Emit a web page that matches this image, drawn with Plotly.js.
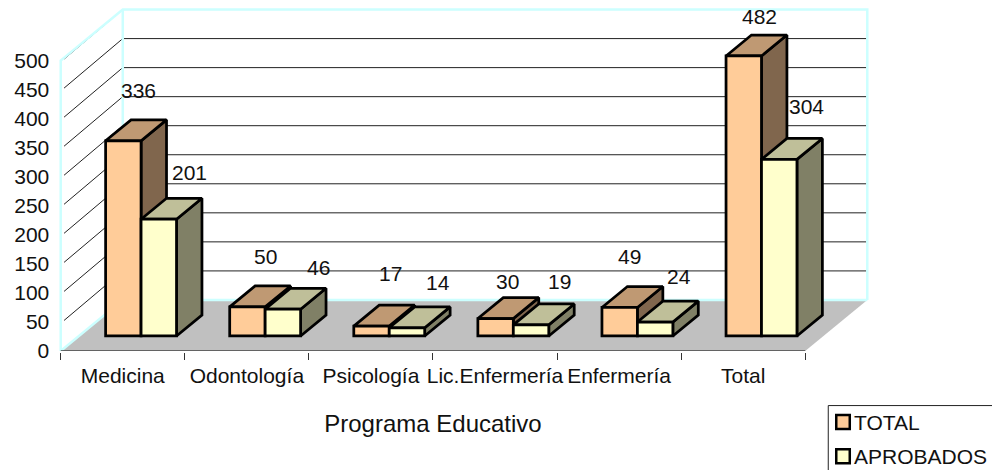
<!DOCTYPE html>
<html>
<head>
<meta charset="utf-8">
<script src="https://cdn.plot.ly/plotly-3.0.1.min.js"></script>
<style>html,body{margin:0;padding:0;background:#fff;overflow:hidden}#c{width:992px;height:470px}</style>
</head>
<body>
<div id="c"></div>
<script>
const categories = ['Medicina','Odontología','Psicología','Lic.Enfermería','Enfermería','Total'];
const total = [336,50,17,30,49,482];
const aprobados = [201,46,14,19,24,304];
const yTicks = [0,50,100,150,200,250,300,350,400,450,500];

// 3D projection settings (x in category units, y in value units per full depth)
const DX = 0.5, DY = 87.9, YMAX = 500;
const barW = 2/7, gap = 1.5/7, dFront = 0.295, dBack = 0.705;
const lineBlack = {color:'#000', width:2.75};
const FONT = 'Liberation Sans, Arial, sans-serif';
const TXT = 21;

function P(x, y, d){ return [x + d*DX, y + d*DY]; }
function polys(list){
  const xs=[], ys=[];
  list.forEach(pts=>{ pts.concat([pts[0]]).forEach(p=>{xs.push(p[0]);ys.push(p[1]);}); xs.push(null); ys.push(null); });
  return {x:xs,y:ys};
}
function lines(list){
  const xs=[], ys=[];
  list.forEach(pts=>{ pts.forEach(p=>{xs.push(p[0]);ys.push(p[1]);}); xs.push(null); ys.push(null); });
  return {x:xs,y:ys};
}
function face(g, fill, z, name){
  return Object.assign({type:'scatter',mode:'lines',fill:'toself',fillcolor:fill,line:lineBlack,
    cliponaxis:false,showlegend:false,hoverinfo:'skip',zorder:z,name:name}, g);
}
function sideFaces(vals, slot){
  return polys(vals.map((v,i)=>{
    const x = i + gap + (slot+1)*barW;
    return [P(x,0,dFront),P(x,0,dBack),P(x,v,dBack),P(x,v,dFront)];
  }));
}
function topFaces(vals, slot){
  return polys(vals.map((v,i)=>{
    const a = i + gap + slot*barW, b = a + barW;
    return [P(a,v,dFront),P(b,v,dFront),P(b,v,dBack),P(a,v,dBack)];
  }));
}
function frontBars(vals, slot, color, z, name){
  return {type:'bar',name:name,x:vals.map((v,i)=>P(i+gap+(slot+.5)*barW,0,dFront)[0]),
    y:vals,base:vals.map(()=>dFront*DY),width:vals.map(()=>barW),
    marker:{color:color,line:lineBlack},cliponaxis:false,zorder:z,hoverinfo:'skip',showlegend:false};
}

const n = categories.length;
const wall = lines([
  [P(0,0,0),P(0,YMAX,0),P(0,YMAX,1),P(n,YMAX,1),P(n,0,1)],
  [P(0,YMAX,1),P(0,0,1),P(0,0,0)],
  [P(0,0,1),P(n,0,1)]
]);
const grid = lines(yTicks.filter(v=>v>0).map(v=>[P(0.012,v,0.03),P(0,v,0.97),P(0,v,1),P(n,v,1)]));
const floor = polys([[P(0,0,0),P(n,0,0),P(n,0,1),P(0,0,1)]]);
const floorEdge = lines([[P(0,0,0),P(n,0,0)]]);

const traces = [
  {type:'scatter',mode:'lines',x:[0,n],y:[0,0],xaxis:'x2',yaxis:'y',line:{color:'rgba(0,0,0,0)',width:0},showlegend:false,hoverinfo:'skip',name:'category axis'},
  {type:'scatter',mode:'lines',x:grid.x,y:grid.y,line:{color:'#222',width:1},cliponaxis:false,showlegend:false,hoverinfo:'skip',zorder:1,name:'grid'},
  {type:'scatter',mode:'lines',fill:'toself',fillcolor:'#C0C0C0',line:{width:0},x:floor.x,y:floor.y,cliponaxis:false,showlegend:false,hoverinfo:'skip',zorder:2,name:'floor'},
  {type:'scatter',mode:'lines',x:wall.x,y:wall.y,line:{color:'#CCFFFF',width:2.5},cliponaxis:false,showlegend:false,hoverinfo:'skip',zorder:3,name:'walls'},
  {type:'scatter',mode:'lines',x:floorEdge.x,y:floorEdge.y,line:{color:'#444',width:1.5},cliponaxis:false,showlegend:false,hoverinfo:'skip',zorder:3,name:'floor edge'},
  face(sideFaces(total,0),'#80664D',4,'TOTAL side'),
  face(topFaces(total,0),'#BF9973',4,'TOTAL top'),
  frontBars(total,0,'#FFCC99',5,'TOTAL'),
  face(sideFaces(aprobados,1),'#808066',6,'APROBADOS side'),
  face(topFaces(aprobados,1),'#BFBF99',6,'APROBADOS top'),
  frontBars(aprobados,1,'#FFFFCC',7,'APROBADOS')
];

// label nudges in pixels from the front-top-centre of each bar
const totalNudge = [[15,50],[18,50],[19,53],[12,37],[10,51],[16,39]];
const aprobNudge = [[31,47],[36,42],[31,45],[28,43],[24,46],[27,53]];
function labels(vals, slot, nudge){
  return vals.map((v,i)=>({xref:'x',yref:'y',x:P(i+gap+(slot+.5)*barW,0,dFront)[0],y:v+dFront*DY,
    text:String(v),showarrow:false,xanchor:'center',yanchor:'middle',
    xshift:nudge[i][0],yshift:nudge[i][1],font:{family:FONT,size:TXT,color:'#111'}}));
}

// page-pixel frame: the front plane spans 61..805 across and 0 sits at 351
const W=992,H=470,CAT=124,PAD=0.03;
const L=61-PAD*CAT, R=61+(n+DX+PAD)*CAT, B=351, T=351-594*0.58;
const PW=R-L, PH=B-T;
const px=v=>(v-L)/PW, py=v=>1-(v-T)/PH;
const legendItems=[['TOTAL','#FFCC99',422],['APROBADOS','#FFFFCC',456]];
const shapes=[{type:'rect',xref:'paper',yref:'paper',x0:px(828),x1:px(1000),y0:py(405.5),y1:py(490),line:{color:'#222',width:1},fillcolor:'#fff'}];
const legendText=[];
legendItems.forEach(([t,c,y])=>{
  shapes.push({type:'rect',xref:'paper',yref:'paper',x0:px(836),x1:px(849.5),y0:py(y-7),y1:py(y+7),line:{color:'#000',width:2.5},fillcolor:c});
  legendText.push({xref:'paper',yref:'paper',x:px(855),y:py(y),text:t,showarrow:false,xanchor:'left',yanchor:'middle',xshift:-3,font:{family:FONT,size:TXT,color:'#111'}});
});

const layout={
  width:W,height:H,margin:{l:L,r:W-R,t:T,b:H-B,pad:0},
  paper_bgcolor:'#fff',plot_bgcolor:'rgba(0,0,0,0)',showlegend:false,hovermode:false,barmode:'overlay',
  font:{family:FONT,size:TXT,color:'#111'},
  xaxis:{range:[-PAD,n+DX+PAD],fixedrange:true,visible:false},
  xaxis2:{domain:[px(61),px(805)],anchor:'y',range:[0,n],fixedrange:true,showgrid:false,zeroline:false,showline:true,linecolor:'#333',linewidth:1.5,
    tickmode:'array',tickvals:categories.map((c,i)=>i+.5),ticktext:categories,ticks:'outside',ticklen:5,tickcolor:'rgba(0,0,0,0)',tickangle:0,
    tickfont:{family:FONT,size:TXT,color:'#111'},
    minor:{tickmode:'array',tickvals:[0,1,2,3,4,5,6],ticks:'outside',ticklen:7,tickcolor:'#333',tickwidth:1,showgrid:false},
    title:{text:'Programa Educativo',font:{family:FONT,size:24,color:'#111'},standoff:29}},
  yaxis:{range:[0,594],fixedrange:true,showgrid:false,zeroline:false,showline:false,
    tickmode:'array',tickvals:yTicks,ticks:'outside',ticklen:2.5,tickcolor:'rgba(0,0,0,0)',
    tickfont:{family:FONT,size:TXT,color:'#111'}},
  shapes:shapes,
  annotations:labels(total,0,totalNudge).concat(labels(aprobados,1,aprobNudge),legendText)
};
Plotly.newPlot('c',traces,layout,{staticPlot:true,displayModeBar:false});
</script>
</body>
</html>
